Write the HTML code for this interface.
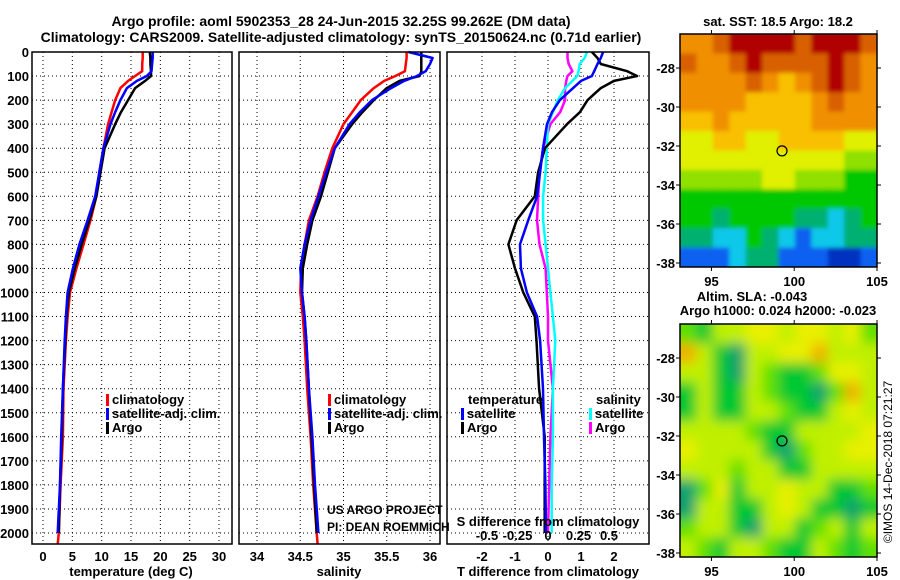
<!DOCTYPE html>
<html><head><meta charset="utf-8"><style>
html,body{margin:0;padding:0;background:#fff}
svg{display:block;font-family:"Liberation Sans",sans-serif}
.b{font-weight:bold;font-size:13px}
</style></head><body>
<svg id="s" width="900" height="580" viewBox="0 0 900 580" xmlns="http://www.w3.org/2000/svg">
<text class="b" x="341" y="26" text-anchor="middle" style="font-size:14px">Argo profile: aoml 5902353_28 24-Jun-2015 32.25S 99.262E (DM data)</text>
<text class="b" x="341" y="42" text-anchor="middle" style="font-size:14px">Climatology: CARS2009. Satellite-adjusted climatology: synTS_20150624.nc (0.71d earlier)</text>
<g id="g"></g>
</svg>
<script>
const depths=[0,25,50,80,100,120,150,200,250,300,400,500,600,700,800,900,1000,1100,1200,1400,1600,1800,2000,2050];
const tClim=[17.0,17.0,16.9,16.9,15.7,14.5,13.2,12.3,11.7,11.1,10.3,9.6,9.1,8.1,6.9,5.7,4.6,4.2,3.9,3.5,3.4,3.0,2.7,2.5];
const tSat=[18.7,18.7,18.6,18.5,17.7,16.0,14.3,13.2,12.3,11.5,10.3,9.6,8.9,7.6,6.2,5.1,4.2,3.9,3.7,3.4,3.1,2.9,2.5,null];
const tArgo=[18.2,18.3,18.3,18.4,18.4,17.4,15.7,14.5,13.3,12.3,10.5,9.8,9.1,7.9,6.6,5.4,4.4,4.0,3.8,3.4,3.2,2.9,2.7,null];
const sClim=[35.73,35.73,35.72,35.71,35.6,35.47,35.35,35.2,35.1,35.0,34.87,34.78,34.7,34.6,34.55,34.51,34.5,34.53,34.55,34.58,34.62,34.65,34.69,34.7];
const sSat=[35.75,36.03,36.0,35.95,35.85,35.7,35.55,35.33,35.19,35.07,34.9,34.8,34.71,34.62,34.55,34.5,34.52,34.55,34.57,34.6,34.64,34.67,34.71,null];
const sArgo=[35.9,35.9,35.9,35.9,35.88,35.65,35.5,35.35,35.22,35.1,34.9,34.82,34.74,34.64,34.58,34.53,34.52,34.55,34.57,34.6,34.63,34.66,34.69,null];
const dtArgo=[1.33,1.5,1.6,2.4,2.7,2.0,1.6,1.2,0.97,0.58,-0.09,-0.3,-0.4,-0.95,-1.2,-1.0,-0.75,-0.4,-0.35,-0.27,-0.1,-0.1,-0.1,null];
const dtSat=[1.67,1.6,1.5,1.4,1.33,1.0,0.76,0.36,0.12,-0.03,-0.15,-0.24,-0.33,-0.6,-0.85,-0.82,-0.64,-0.33,-0.24,-0.15,-0.12,-0.08,-0.06,null];
const dsSat=[0.32,0.30,0.26,0.25,0.24,0.2,0.14,0.08,0.04,0,-0.01,-0.02,-0.04,-0.04,-0.02,0,0.02,0.04,0.06,0.04,0.04,0.03,0.03,null];
const dsArgo=[0.16,0.16,0.17,0.2,0.16,0.15,0.14,0.14,0.1,0.02,-0.04,-0.07,-0.08,-0.09,-0.07,-0.02,-0.01,0,0,0.04,0.02,0.01,0,null];
const depthTicks=[0,100,200,300,400,500,600,700,800,900,1000,1100,1200,1300,1400,1500,1600,1700,1800,1900,2000];
const tTicks=[0,5,10,15,20,25,30];
const sTicks=[34,34.5,35,35.5,36];
const dtTicks=[-2,-1,0,1,2];
const dsTicks=[-0.5,-0.25,0,0.25,0.5];
const dsTickText=['-0.5','-0.25','0','0.25','0.5'];
const sstGrid=[
[8,8,9,10,10,10,10,9,10,10,10,9],[9,8,8,9,10,9,9,9,9,10,9,8],[8,8,8,8,9,8,7,8,9,10,9,8],
[8,8,8,8,7,7,7,7,8,9,8,8],[7,7,8,7,7,7,7,7,8,8,8,8],[6,6,7,7,6,6,7,7,7,7,6,6],
[6,6,6,6,6,6,6,6,6,6,5,5],[5,5,5,5,5,6,6,5,5,5,4,4],[4,4,4,4,4,4,4,4,4,4,4,4],
[4,4,3,4,4,4,4,3,3,2,3,4],[3,3,2,2,4,3,2,1,2,2,3,3],[1,1,1,2,3,3,1,1,1,0,0,1]];
const slaGrid=[
[2,1,3,3,4,4,3,4,4,3,4,2],[5,3,1,0,3,3,4,4,5,3,3,3],[3,3,1,0,3,2,1,1,2,4,4,3],
[1,3,1,1,3,2,1,1,0,2,5,3],[1,3,1,1,3,3,2,1,1,3,4,3],[3,3,3,3,2,1,1,3,3,3,3,4],
[4,3,3,3,3,1,0,2,3,3,4,4],[3,3,3,2,3,3,1,1,3,3,3,3],[0,2,4,1,3,3,4,3,3,1,1,2],
[0,3,3,1,1,3,4,3,1,1,0,1],[2,3,3,1,0,3,3,1,2,3,1,3],[3,2,1,3,3,2,1,1,3,2,1,2]];
const sstColors=['#0030c0','#1060f0','#10c8e8','#00b070','#00c800','#90e000','#e0f000','#f8c000','#f09000','#d86000','#b00000'];
const slaColors=['#10a070','#00c830','#60e000','#c0f000','#e8f000','#f0b000'];
const lonTicks=[95,100,105];
const latTicks=[-28,-30,-32,-34,-36,-38];
const argoLon=99.262, argoLat=-32.25;

const NS='http://www.w3.org/2000/svg';
const G=document.getElementById('g');
function mk(t,a,p){const e=document.createElementNS(NS,t);for(const k in a)e.setAttribute(k,a[k]);(p||G).appendChild(e);return e;}
function tx(s,a,p){const e=mk('text',a,p);e.textContent=s;return e;}
const yD=d=>52+d*0.2405;
const Y0=52,Y1=544;
const panels=[{x0:32,x1:232},{x0:239,x1:440},{x0:447,x1:649}];
const xT=v=>43+v*5.867, xS=v=>257+(v-34)*86.5, xDT=v=>548+v*33, xDS=v=>548+v*122;

panels.forEach((p,i)=>{
  const g=mk('g',{});
  
  
  depthTicks.forEach(d=>{if(d>0){const l=mk('line',{x1:p.x0,x2:p.x1,y1:yD(d),y2:yD(d),stroke:'#000','stroke-width':1,'stroke-dasharray':'1,3'},g);}});
  p.g=g;
});
function vgrid(p,ticks,fx){ticks.forEach(v=>{const x=fx(v);const l=mk('line',{x1:x,x2:x,y1:Y0,y2:Y1,stroke:'#000','stroke-width':1,'stroke-dasharray':'1,3'},p.g);});}
vgrid(panels[0],tTicks,xT);vgrid(panels[1],sTicks,xS);vgrid(panels[2],dtTicks,xDT);

function line(p,vals,fx,col,name){
  let d='';let first=true;
  vals.forEach((v,i)=>{if(v===null)return;const x=fx(v),y=Math.min(yD(depths[i]),Y1);d+=(first?'M':'L')+x.toFixed(1)+','+y.toFixed(1);first=false;});
  const e=mk('path',{d:d,fill:'none',stroke:col,'stroke-width':2.5,'stroke-linejoin':'round'},p.g);
  
  
}
line(panels[0],tClim,xT,'#ff0000','temp-climatology-line');
line(panels[0],tArgo,xT,'#000','temp-argo-line');
line(panels[0],tSat,xT,'#0000ff','temp-satellite-line');
line(panels[1],sClim,xS,'#ff0000','sal-climatology-line');
line(panels[1],sArgo,xS,'#000','sal-argo-line');
line(panels[1],sSat,xS,'#0000ff','sal-satellite-line');
line(panels[2],dsArgo,xDS,'#ff00ff','sdiff-argo-line');
line(panels[2],dsSat,xDS,'#00ffff','sdiff-satellite-line');
line(panels[2],dtArgo,xDT,'#000','tdiff-argo-line');
line(panels[2],dtSat,xDT,'#0000ff','tdiff-satellite-line');

panels.forEach(p=>{const r=mk('rect',{x:p.x0,y:Y0,width:p.x1-p.x0,height:Y1-Y0,fill:'none',stroke:'#000','stroke-width':1.5},p.g);});

depthTicks.forEach(d=>{const t=tx(String(d),{x:29,y:yD(d)+5,'text-anchor':'end',class:'b'});});
function xlabels(ticks,fx,y,txt){ticks.forEach((v,i)=>{const t=tx(txt?txt[i]:String(v),{x:fx(v),y:y,'text-anchor':'middle',class:'b'});});}
xlabels(tTicks,xT,561);xlabels(sTicks,xS,561);xlabels(dtTicks,xDT,561);
xlabels(dsTicks,xDS,540,dsTickText);
function lbl(s,x,y,n,anchor,cls){const t=tx(s,{x:x,y:y,'text-anchor':anchor||'middle',class:cls||'b'});return t;}
lbl('temperature (deg C)',131,576,'x-axis-title-temperature');
lbl('salinity',339,576,'x-axis-title-salinity');
lbl('T difference from climatology',548,576,'x-axis-title-tdiff');
lbl('S difference from climatology',548,526,'sdiff-axis-title');
function leg(x,y,col,s,n){const r=mk('rect',{x:x,y:y-10,width:3,height:12,fill:col});lbl(s,x+6,y,n,'start');}
leg(106,404,'#ff0000','climatology','legend-climatology-1');
leg(106,418,'#0000ff','satellite-adj. clim.','legend-satellite-1');
leg(106,432,'#000','Argo','legend-argo-1');
leg(328,404,'#ff0000','climatology','legend-climatology-2');
leg(328,418,'#0000ff','satellite-adj. clim.','legend-satellite-2');
leg(328,432,'#000','Argo','legend-argo-2');
lbl('temperature',468,404,'legend-temperature-heading','start');
leg(461,418,'#0000ff','satellite','legend-tdiff-satellite');
leg(461,432,'#000','Argo','legend-tdiff-argo');
lbl('salinity',596,404,'legend-salinity-heading','start');
leg(589,418,'#00ffff','satellite','legend-sdiff-satellite');
leg(589,432,'#ff00ff','Argo','legend-sdiff-argo');
lbl('US ARGO PROJECT',327,514,'credit-project','start','').setAttribute('style','font-size:12px');
lbl('PI: DEAN ROEMMICH',327,531,'credit-pi','start','').setAttribute('style','font-size:12px');

// maps
const mapX0=680,mapX1=877,lonA=93.1,lonB=105.0;
const fLon=v=>mapX0+(v-lonA)*(mapX1-mapX0)/(lonB-lonA);
function map(top,grid,cols,name,blur){
  const g=mk('g',{});
  
  
  const h=233,fLat=v=>top+34+(-28-v)*19.5;
  const fid='f'+top;
  const f=mk('filter',{id:fid,x:'0',y:'0',width:'1',height:'1'},g);mk('feGaussianBlur',{stdDeviation:blur},f);
  const cg=mk('g',{'clip-path':'url(#c'+top+')'},g);
  const cp=mk('clipPath',{id:'c'+top},g);mk('rect',{x:mapX0,y:top,width:mapX1-mapX0,height:h},cp);
  const ig=mk('g',{filter:'url(#'+fid+')'},cg);
  const nr=grid.length,nc=grid[0].length,cw=(mapX1-mapX0)/nc,ch=h/nr;
  mk('rect',{x:mapX0-20,y:top-20,width:mapX1-mapX0+40,height:h+40,fill:cols[grid[5][5]]},ig);
  grid.forEach((row,r)=>row.forEach((v,c)=>{
    const e=mk('rect',{x:mapX0+c*cw-(c==0?20:0),y:top+r*ch-(r==0?20:0),width:cw+1+(c==0||c==nc-1?20:0),height:ch+1+(r==0||r==nr-1?20:0),fill:cols[v]},ig);
    
    
  }));
  const fr=mk('rect',{x:mapX0,y:top,width:mapX1-mapX0,height:h,fill:'none',stroke:'#000','stroke-width':1.5},g);
  
  latTicks.forEach(v=>{const y=fLat(v);mk('line',{x1:mapX0-4,x2:mapX0,y1:y,y2:y,stroke:'#000'},g);mk('line',{x1:mapX1,x2:mapX1+4,y1:y,y2:y,stroke:'#000'},g);
    const t=tx(String(v),{x:675,y:y+5,'text-anchor':'end',class:'b'},g);});
  lonTicks.forEach(v=>{const x=fLon(v);mk('line',{x1:x,x2:x,y1:top-4,y2:top,stroke:'#000'},g);mk('line',{x1:x,x2:x,y1:top+h,y2:top+h+4,stroke:'#000'},g);
    const t=tx(String(v),{x:x,y:top+h+19,'text-anchor':'middle',class:'b'},g);});
  const c=mk('circle',{cx:fLon(argoLon),cy:fLat(argoLat),r:5,fill:'none',stroke:'#000','stroke-width':1.2},g);
  
}
map(34,sstGrid,sstColors,'sst-map',2);
map(324,slaGrid,slaColors,'sla-map',6);
lbl('sat. SST: 18.5 Argo: 18.2',778,26,'sst-map-title');
lbl('Altim. SLA: -0.043',752,301,'sla-map-title');
lbl('Argo h1000: 0.024 h2000: -0.023',778,315,'sla-map-subtitle');
const im=tx('©IMOS 14-Dec-2018 07:21:27',{x:0,y:0,'text-anchor':'middle',transform:'translate(892,462) rotate(-90)',style:'font-size:12px'});

</script>
</body></html>
